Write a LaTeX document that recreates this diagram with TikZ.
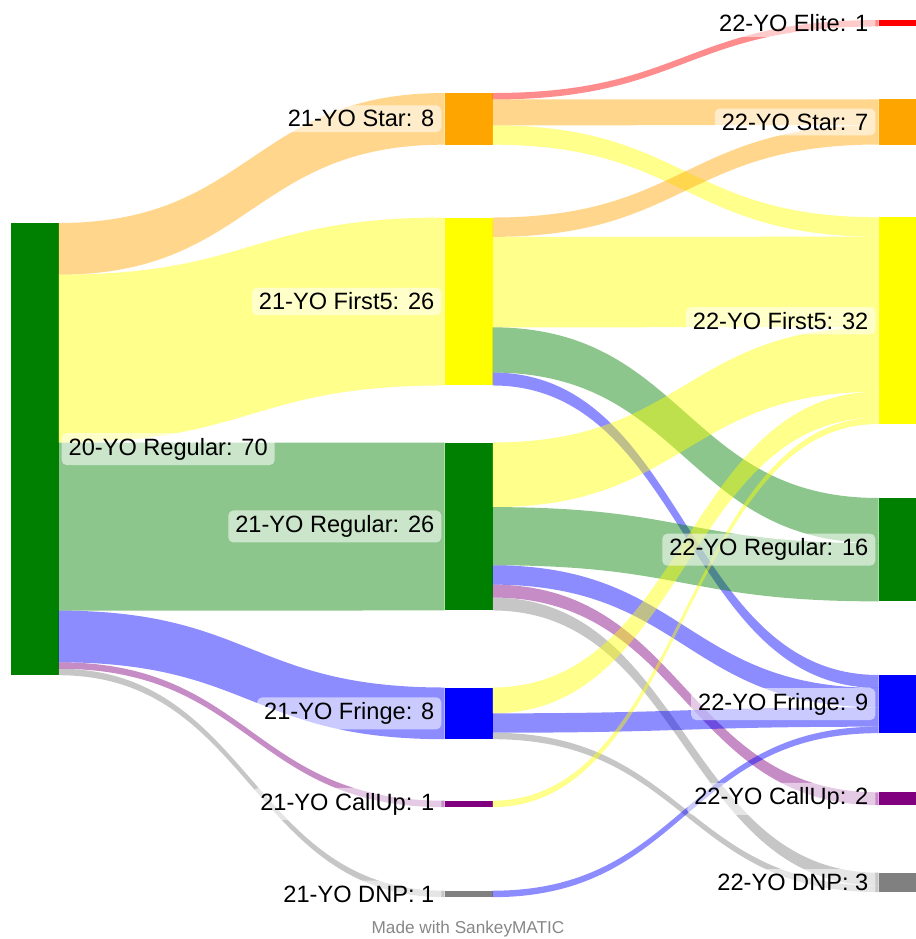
\documentclass[tikz,border=0pt]{standalone}
\usepackage{fontspec}
\setmainfont{Liberation Sans}
\usepackage{tikz}
\usetikzlibrary{calc, positioning}

\definecolor{sGreen}{HTML}{008000}
\definecolor{sYellow}{HTML}{FFFF00}
\definecolor{sOrange}{HTML}{FFA500}
\definecolor{sBlue}{HTML}{0000FF}
\definecolor{sPurple}{HTML}{800080}
\definecolor{sGray}{HTML}{808080}
\definecolor{sRed}{HTML}{FF0000}

% height of one unit of flow
\def\k{3.23pt}

% \flow{from}{offset}{to}{offset}{amount}{colour}
\newcommand\flow[6]{%
  \fill[fill=#6, flowband]
    let \p1=($(#1.north east)+(0pt,{-(#2)*\k})$),
        \p2=($(#3.north west)+(0pt,{-(#4)*\k})$),
        \p3=($(#1.north east)+(0pt,{-(#2+#5)*\k})$),
        \p4=($(#3.north west)+(0pt,{-(#4+#5)*\k})$),
        \p5=($(#1.north east)!0.5!(#3.north west)$)
    in (\p1) .. controls (\x5,\y1) and (\x5,\y2) .. (\p2)
       -- (\p4) .. controls (\x5,\y4) and (\x5,\y3) .. (\p3) -- cycle;
}

\begin{document}
\begin{tikzpicture}[
    x=0.5pt, y=-0.5pt,
    bar/.style={rectangle, inner sep=0pt, outer sep=0pt, minimum width=24pt,
                anchor=north west},
    rbar/.style={bar, minimum width=19pt},
    lab/.style={fill=white, fill opacity=0.55, text opacity=1,
                rounded corners=2.5pt, inner xsep=3.5pt, inner ysep=2.5pt,
                font=\fontsize{11.8}{14}\selectfont},
    flowband/.style={fill opacity=0.45},
    credit/.style={font=\fontsize{8.6}{10}\selectfont, text=black!47}
]
\useasboundingbox (0,0) rectangle (916,939);

\def\xl{10.5}
\def\xm{444.5}
\def\xr{878.5}

% columns
\node[bar, fill=sGreen, minimum height={70*\k}] (reg20) at (\xl,223) {};

\node[bar, fill=sOrange, minimum height={8*\k}] (star21) at (\xm,93) {};
\node[bar, fill=sYellow, minimum height={26*\k}] (first21) at (\xm,217.5) {};
\node[bar, fill=sGreen, minimum height={26*\k}] (reg21) at (\xm,442.5) {};
\node[bar, fill=sBlue, minimum height={8*\k}] (fringe21) at (\xm,687.5) {};
\node[bar, fill=sPurple, minimum height={1*\k}] (callup21) at (\xm,800.7) {};
\node[bar, fill=sGray, minimum height={1*\k}] (dnp21) at (\xm,890.7) {};

\node[rbar, fill=sRed, minimum height={1*\k}] (elite22) at (\xr,20) {};
\node[rbar, fill=sOrange, minimum height={7*\k}] (star22) at (\xr,99.3) {};
\node[rbar, fill=sYellow, minimum height={32*\k}] (first22) at (\xr,217.3) {};
\node[rbar, fill=sGreen, minimum height={16*\k}] (reg22) at (\xr,498) {};
\node[rbar, fill=sBlue, minimum height={9*\k}] (fringe22) at (\xr,675) {};
\node[rbar, fill=sPurple, minimum height={2*\k}] (callup22) at (\xr,792.3) {};
\node[rbar, fill=sGray, minimum height={3*\k}] (dnp22) at (\xr,872.7) {};

% 20 -> 21
\flow{reg20}{0}{star21}{0}{8}{sOrange}
\flow{reg20}{8}{first21}{0}{26}{sYellow}
\flow{reg20}{34}{reg21}{0}{26}{sGreen}
\flow{reg20}{60}{fringe21}{0}{8}{sBlue}
\flow{reg20}{68}{callup21}{0}{1}{sPurple}
\flow{reg20}{69}{dnp21}{0}{1}{sGray}

% 21 -> 22
\flow{star21}{0}{elite22}{0}{1}{sRed}
\flow{star21}{1}{star22}{0}{4}{sOrange}
\flow{star21}{5}{first22}{0}{3}{sYellow}
\flow{first21}{0}{star22}{4}{3}{sOrange}
\flow{first21}{3}{first22}{3}{14}{sYellow}
\flow{first21}{17}{reg22}{0}{7}{sGreen}
\flow{first21}{24}{fringe22}{0}{2}{sBlue}
\flow{reg21}{0}{first22}{17}{10}{sYellow}
\flow{reg21}{10}{reg22}{7}{9}{sGreen}
\flow{reg21}{19}{fringe22}{2}{3}{sBlue}
\flow{reg21}{22}{callup22}{0}{2}{sPurple}
\flow{reg21}{24}{dnp22}{0}{2}{sGray}
\flow{fringe21}{0}{first22}{27}{4}{sYellow}
\flow{fringe21}{4}{fringe22}{5}{3}{sBlue}
\flow{fringe21}{7}{dnp22}{2}{1}{sGray}
\flow{callup21}{0}{first22}{31}{1}{sYellow}
\flow{dnp21}{0}{fringe22}{8}{1}{sBlue}

% labels
\node[lab, right=1.4pt of reg20] (lreg20) {20-YO Regular: 70};

\node[lab, left=1.4pt of star21] (lstar21) {21-YO Star: 8};
\node[lab, left=1.4pt of first21] (lfirst21) {21-YO First5: 26};
\node[lab, left=1.4pt of reg21] (lreg21) {21-YO Regular: 26};
\node[lab, left=1.4pt of fringe21] (lfringe21) {21-YO Fringe: 8};
\node[lab, left=1.4pt of callup21] (lcallup21) {21-YO CallUp: 1};
\node[lab, left=1.4pt of dnp21] (ldnp21) {21-YO DNP: 1};

\node[lab, left=1.4pt of elite22] (lelite22) {22-YO Elite: 1};
\node[lab, left=1.4pt of star22] (lstar22) {22-YO Star: 7};
\node[lab, left=1.4pt of first22] (lfirst22) {22-YO First5: 32};
\node[lab, left=1.4pt of reg22] (lreg22) {22-YO Regular: 16};
\node[lab, left=1.4pt of fringe22] (lfringe22) {22-YO Fringe: 9};
\node[lab, left=1.4pt of callup22] (lcallup22) {22-YO CallUp: 2};
\node[lab, left=1.4pt of dnp22] (ldnp22) {22-YO DNP: 3};

\node[credit] (credit) at (468,929) {Made with SankeyMATIC};

\end{tikzpicture}
\end{document}
